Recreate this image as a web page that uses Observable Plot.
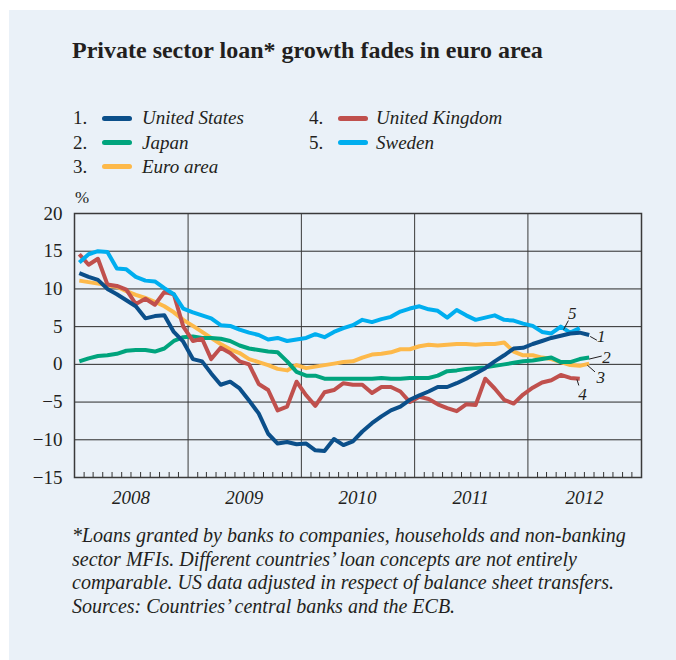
<!DOCTYPE html>
<html>
<head>
<meta charset="utf-8">
<script src="https://cdn.jsdelivr.net/npm/d3@7"></script>
<script src="https://cdn.jsdelivr.net/npm/@observablehq/plot@0.6"></script>
<style>
  html, body { margin: 0; padding: 0; background: #ffffff; }
  body { width: 676px; height: 660px; position: relative; overflow: hidden; font-family: "Liberation Serif", serif; color: #231f20; }
  #panel { position: absolute; left: 9px; top: 10px; width: 667px; height: 650px; background: #eaf1f8; }
  .abs { position: absolute; white-space: nowrap; }
  #title { left: 72px; top: 38px; font-size: 24px; font-weight: bold; line-height: 24px; }
  .lg { font-size: 19px; line-height: 24px; }
  .lg i { font-style: italic; }
  .sw { position: absolute; height: 5px; border-radius: 3px; width: 30px; }
  #pct { left: 75px; top: 187px; font-size: 17px; line-height: 22px; }
  #chart { position: absolute; left: 0; top: 195px; }
  #note { left: 72px; top: 524px; font-size: 20px; line-height: 23.5px; font-style: italic; }
</style>
</head>
<body>
<div id="panel"></div>
<div id="title" class="abs">Private sector loan* growth fades in euro area</div>
<div id="legend"></div>
<div id="pct" class="abs">%</div>
<div id="chart"></div>
<div id="note" class="abs">*Loans granted by banks to companies, households and non-banking<br>sector MFIs. Different countries’ loan concepts are not entirely<br>comparable. US data adjusted in respect of balance sheet transfers.<br>Sources: Countries’ central banks and the ECB.</div>
<script>
// Monthly series, first value = January 2008 (annual % growth)
const unitedStates = [12.1,11.6,11.2,10.0,9.3,8.5,7.7,6.1,6.4,6.5,
  4.3,3.0,0.7,0.4,-1.2,-2.7,-2.3,-3.2,-4.8,-6.5,
  -9.2,-10.5,-10.3,-10.6,-10.5,-11.4,-11.5,-9.9,-10.7,-10.2,
  -8.9,-7.8,-6.9,-6.1,-5.6,-4.7,-4.1,-3.6,-3.0,-3.0,
  -2.5,-1.9,-1.2,-0.5,0.4,1.2,2.1,2.2,2.7,3.1,
  3.5,3.8,4.1,4.2,3.9];
const japan = [0.4,0.8,1.1,1.2,1.4,1.8,1.9,1.9,1.7,2.1,
  3.1,3.6,3.7,3.5,3.5,3.4,3.1,2.5,2.1,1.9,
  1.7,1.6,0.4,-1.0,-1.5,-1.5,-1.9,-1.9,-1.9,-1.9,
  -1.9,-1.9,-1.8,-1.9,-1.9,-1.8,-1.8,-1.8,-1.5,-0.9,
  -0.8,-0.6,-0.5,-0.4,-0.2,0.0,0.2,0.4,0.5,0.7,
  0.9,0.3,0.3,0.7,0.9];
const euroArea = [11.1,10.9,10.7,10.5,10.3,9.7,9.2,8.8,8.3,7.7,
  6.9,5.9,5.1,4.3,3.5,2.7,2.0,1.5,0.7,0.3,
  -0.1,-0.6,-0.8,-0.1,-0.5,-0.3,-0.1,0.1,0.3,0.4,
  0.9,1.3,1.4,1.6,2.0,2.0,2.4,2.6,2.5,2.6,
  2.7,2.7,2.6,2.7,2.7,2.9,1.7,1.2,1.2,0.9,
  0.7,0.3,-0.1,-0.2,0.1];
const unitedKingdom = [14.6,13.2,14.0,10.6,10.4,9.9,8.0,8.7,7.9,9.6,
  9.3,5.0,3.1,3.4,0.7,2.2,1.5,0.4,0.0,-2.6,
  -3.4,-6.1,-5.6,-2.3,-4.1,-5.5,-3.7,-3.4,-2.5,-2.7,
  -2.7,-3.8,-3.0,-3.0,-3.6,-5.0,-4.3,-4.6,-5.3,-5.8,
  -6.2,-5.3,-5.4,-1.9,-3.2,-4.7,-5.2,-4.0,-3.1,-2.4,
  -2.1,-1.4,-1.8,-1.9];
const sweden = [13.5,14.6,15.0,14.9,12.7,12.6,11.6,11.1,11.0,10.1,
  9.3,7.4,6.9,6.5,6.1,5.2,5.1,4.6,4.2,3.9,
  3.3,3.5,3.1,3.3,3.5,4.0,3.6,4.3,4.8,5.2,
  5.9,5.6,6.0,6.3,7.0,7.4,7.7,7.3,7.1,6.2,
  7.2,6.5,5.9,6.2,6.5,5.9,5.8,5.4,5.1,4.3,
  4.1,5.0,4.2,4.8];

const seriesNames = ["United States","Japan","Euro area","United Kingdom","Sweden"];
const seriesNumbers = ["1.","2.","3.","4.","5."];
const seriesColors = ["#0b4f8a","#00a47d","#fdb94a","#c0504d","#00aeef"];
const seriesValues = [unitedStates, japan, euroArea, unitedKingdom, sweden];
const drawOrder = [2, 1, 3, 4, 0];

const yTicks = [-15,-10,-5,0,5,10,15,20];
const yearLabels = [2008,2009,2010,2011,2012];
const startYear = 2008, endYear = 2013;

// end labels: label, month offset from Jan 2008, value
const endLabelText = ["5","1","2","3","4"];
const endLabelMonth = [52.7,55.75,56.3,55.7,53.8];
const endLabelValue = [6.8,3.65,0.95,-1.75,-3.95];
// leader lines: month1, value1 -> month2, value2
const leaderM1 = [52.3,54.6,54.5,54.3,53.2];
const leaderV1 = [5.8,3.7,0.7,-0.1,-2.0];
const leaderM2 = [51.8,55.3,55.8,55.1,53.4];
const leaderV2 = [4.6,3.2,1.1,-1.0,-2.8];

// ---------- helpers ----------
const monthDate = (m) => {
  const whole = Math.floor(m);
  const a = Date.UTC(2008, whole, 1), b = Date.UTC(2008, whole + 1, 1);
  return new Date(a + (b - a) * (m - whole));
};
const midMonth = (i) => monthDate(i + 0.5);

const rows = [];
seriesValues.forEach((vals, s) => vals.forEach((v, i) => rows.push({series: s, date: midMonth(i), value: v})));

const labels = endLabelText.map((t, i) => ({text: t, date: monthDate(endLabelMonth[i]), value: endLabelValue[i]}));
const leaders = leaderM1.map((m, i) => ({d1: monthDate(m), v1: leaderV1[i], d2: monthDate(leaderM2[i]), v2: leaderV2[i]}));

const x0 = new Date(Date.UTC(startYear, 0, 1)), x1 = new Date(Date.UTC(endYear, 0, 1));
const monthTicks = d3.utcMonth.range(x0, x1).filter(d => d.getUTCMonth() !== 0);
const yearLines = d3.range(startYear + 1, endYear).map(y => new Date(Date.UTC(y, 0, 1)));
const midYears = yearLabels.map(y => new Date(Date.UTC(y, 6, 1)));

const lineMarks = drawOrder.map(s => Plot.line(rows.filter(r => r.series === s), {
  x: "date", y: "value", stroke: seriesColors[s], strokeWidth: 4, strokeLinejoin: "round", strokeLinecap: "butt"
}));

const chart = Plot.plot({
  width: 676, height: 320,
  marginLeft: 74, marginRight: 35, marginTop: 18, marginBottom: 38,
  style: {background: "transparent", fontFamily: "'Liberation Serif', serif", fontSize: "19px", color: "#231f20", overflow: "visible"},
  x: {type: "utc", domain: [x0, x1], label: null},
  y: {domain: [-15, 20], label: null},
  marks: [
    Plot.ruleY(yTicks.slice(1, -1), {stroke: "#2a2a2a", strokeWidth: 1}),
    Plot.ruleX(yearLines, {stroke: "#3a3a3a", strokeWidth: 1}),
    Plot.axisX({ticks: monthTicks, tickSize: 5, dy: -5, tickFormat: () => "", stroke: "#333", label: null}),
    Plot.axisY({ticks: yTicks, tickSize: 0, tickPadding: 12, fontSize: 19, label: null}),
    Plot.axisX({ticks: midYears, tickSize: 0, tickPadding: 13, fontSize: 19, fontStyle: "italic", tickFormat: d => String(d.getUTCFullYear()), label: null}),
    ...lineMarks,
    Plot.link(leaders, {x1: "d1", y1: "v1", x2: "d2", y2: "v2", stroke: "#231f20", strokeWidth: 1}),
    Plot.text(labels, {x: "date", y: "value", text: "text", fontSize: 17, fontStyle: "italic", fill: "#231f20"}),
    Plot.frame({stroke: "#3a3a3a", strokeWidth: 1.5})
  ]
});
document.getElementById("chart").appendChild(chart);

// ---------- legend ----------
const legend = document.getElementById("legend");
const colX = [73, 309], nameOff = [69, 67], rowY = [118, 142.5, 166.5];
const place = [[0,0],[0,1],[0,2],[1,0],[1,1]];
seriesNames.forEach((name, i) => {
  const [c, r] = place[i];
  const num = document.createElement("div");
  num.className = "abs lg";
  num.style.left = colX[c] + "px";
  num.style.top = (rowY[r] - 12) + "px";
  num.textContent = seriesNumbers[i];
  legend.appendChild(num);
  const sw = document.createElement("div");
  sw.className = "sw";
  sw.style.left = (colX[c] + 29) + "px";
  sw.style.top = (rowY[r] - 2.5) + "px";
  sw.style.background = seriesColors[i];
  legend.appendChild(sw);
  const nm = document.createElement("div");
  nm.className = "abs lg";
  nm.style.left = (colX[c] + nameOff[c]) + "px";
  nm.style.top = (rowY[r] - 12) + "px";
  nm.innerHTML = "<i></i>";
  nm.firstChild.textContent = name;
  legend.appendChild(nm);
});
</script>
</body>
</html>
